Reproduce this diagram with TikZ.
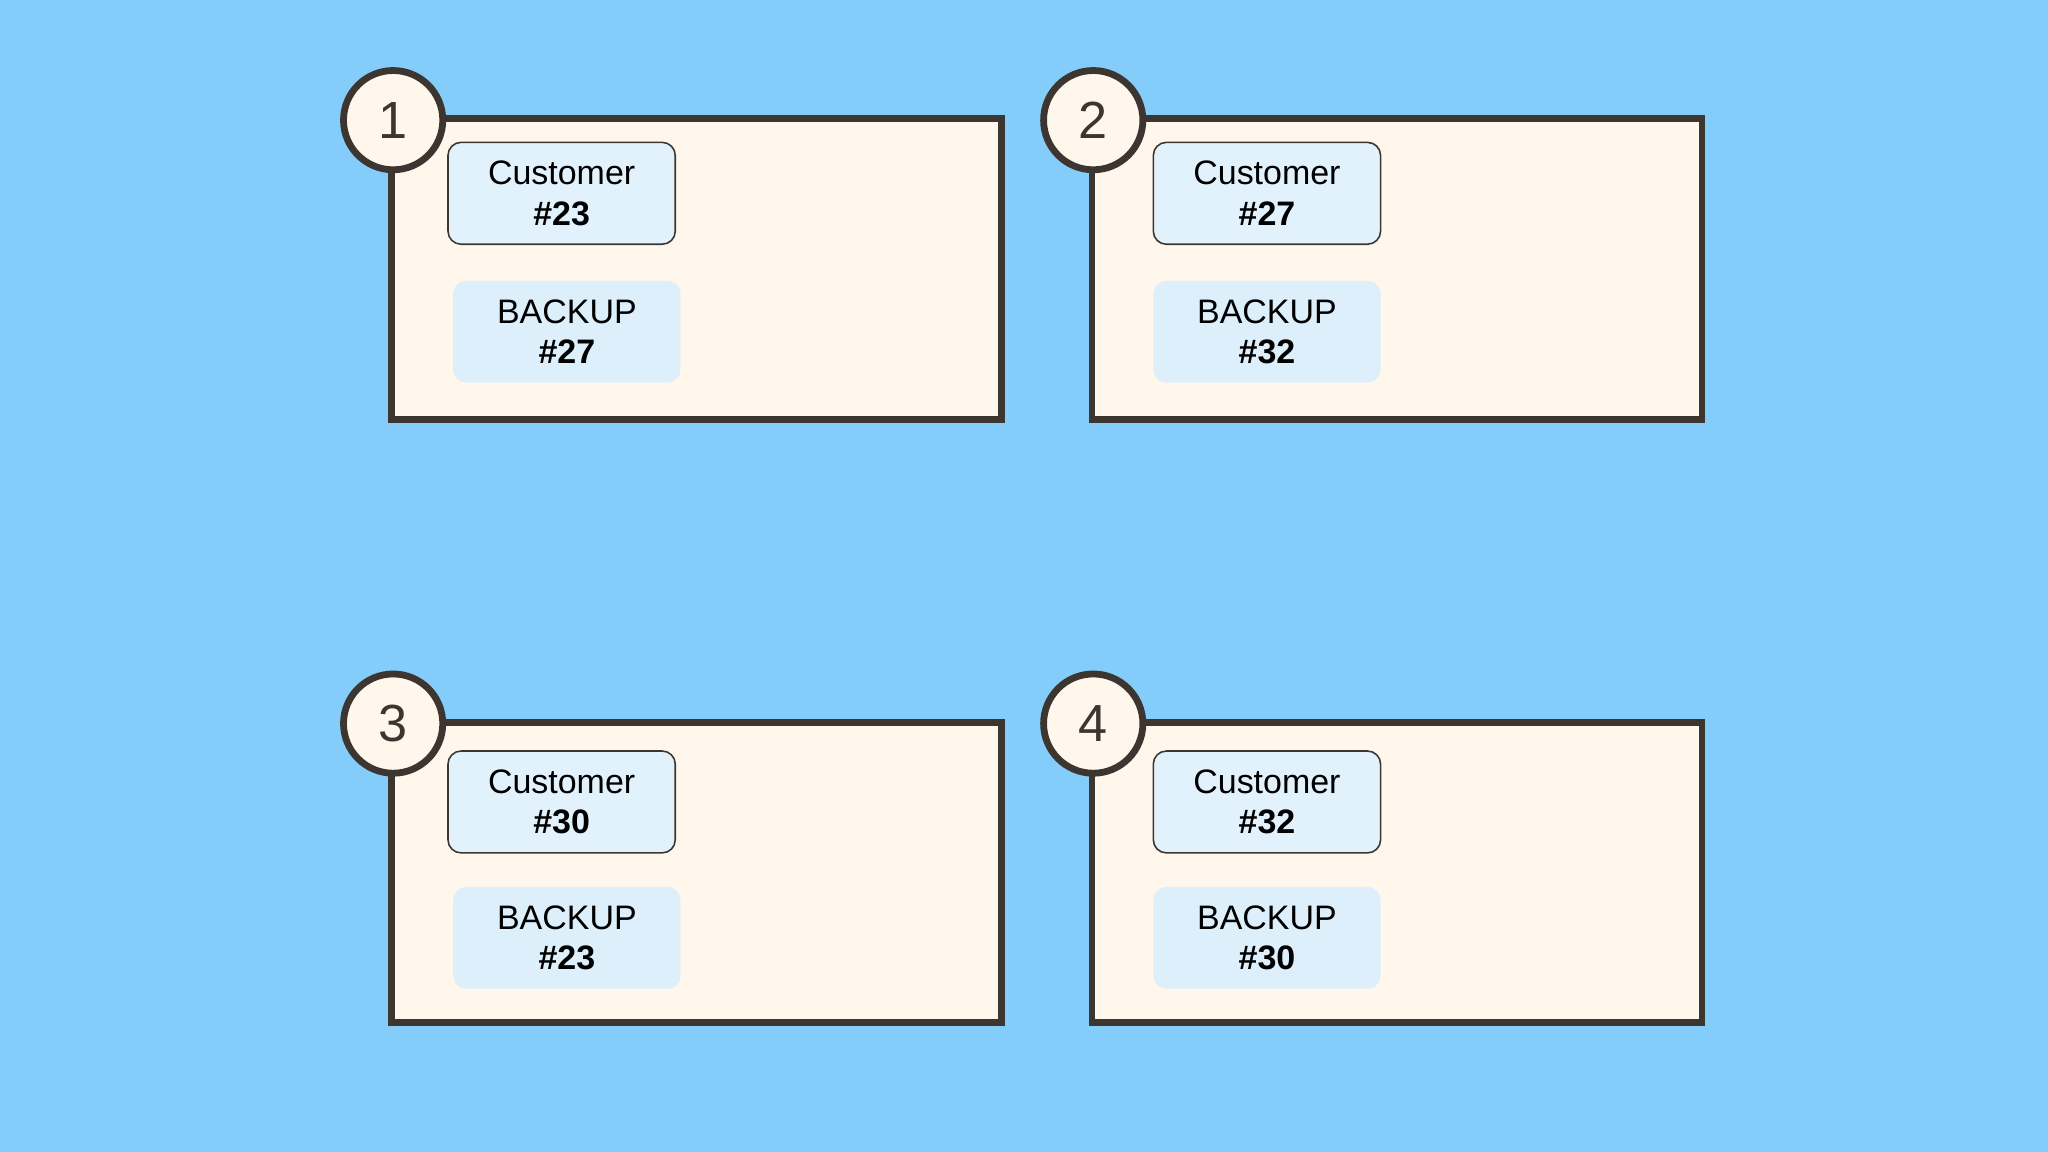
\documentclass[tikz,border=0pt]{standalone}
\usepackage{fontspec}
\setmainfont{Liberation Sans}
\definecolor{bg}{HTML}{84CDFB}
\definecolor{panel}{HTML}{FFF6EC}
\definecolor{ink}{HTML}{3D3630}
\definecolor{cust}{HTML}{E2F2FC}
\definecolor{bak}{HTML}{DCEFFB}
\tikzset{
  panelbox/.style={draw=ink,line width=2.6pt,fill=panel},
  numcirc/.style={circle,draw=ink,line width=2.6pt,fill=panel,minimum size=38pt,inner sep=0pt,font=\fontsize{20}{22}\selectfont,text=ink},
  custbox/.style={draw=ink,line width=0.6pt,fill=cust,rounded corners=5pt,minimum width=87pt,minimum height=39pt,align=center,font=\fontsize{13}{15.5}\selectfont,inner sep=0pt},
  bakbox/.style={fill=bak,rounded corners=5pt,minimum width=87pt,minimum height=39pt,align=center,font=\fontsize{13}{15.5}\selectfont,inner sep=0pt}
}
\begin{document}
\begin{tikzpicture}[x=0.5pt,y=-0.5pt]
\fill[bg] (0,0) rectangle (1568,882);
\useasboundingbox (0,0) rectangle (1568,882);
\newcommand{\mypanel}[8]{%
  \draw[panelbox] (#1,#2) rectangle ++(467,230);
  \node[numcirc] (n#3) at (#1+1,#2+1) {#3};
  \node[custbox] (c#3) at (#1+#6,#2+#7) {Customer\\\textbf{\##4}};
  \node[bakbox] (b#3) at (#1+134,#2+#8) {BACKUP\\\textbf{\##5}};
}
\mypanel{300}{91}{1}{23}{27}{130}{57}{163}
\mypanel{836}{91}{2}{27}{32}{134}{57}{163}
\mypanel{300}{553}{3}{30}{23}{130}{61}{165}
\mypanel{836}{553}{4}{32}{30}{134}{61}{165}
\end{tikzpicture}
\end{document}
